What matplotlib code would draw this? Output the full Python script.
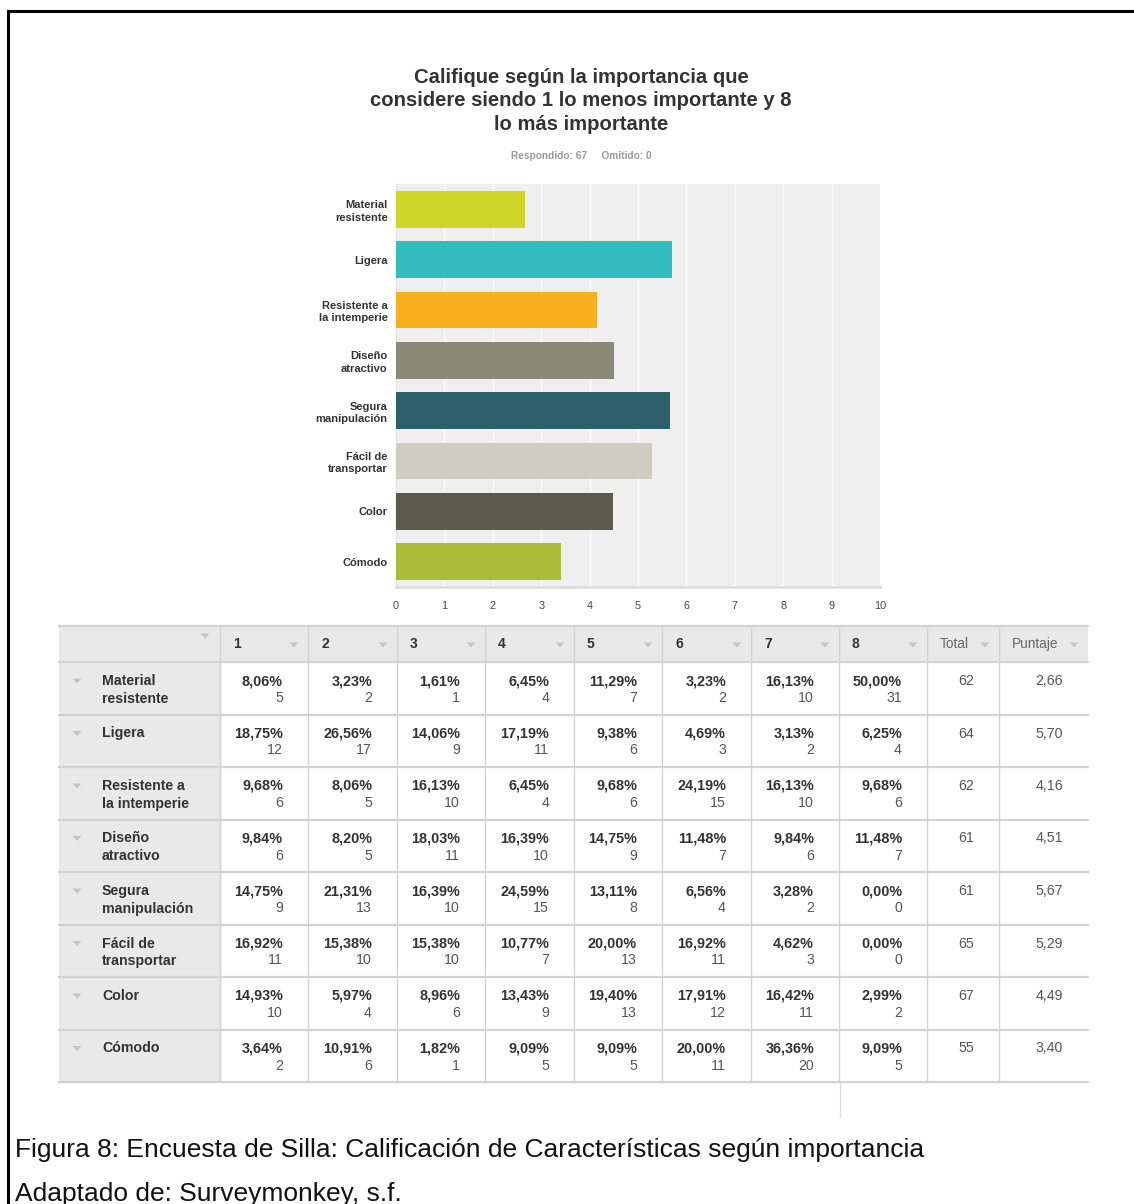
import numpy as np
import matplotlib
matplotlib.use('Agg')
import matplotlib.pyplot as plt
from matplotlib.patches import Rectangle, Polygon

plt.rcParams['font.family'] = ['Liberation Sans', 'DejaVu Sans']

features = ['Material\nresistente', 'Ligera', 'Resistente a\nla intemperie', 'Diseño\natractivo',
            'Segura\nmanipulación', 'Fácil de\ntransportar', 'Color', 'Cómodo']
scores = [2.66, 5.70, 4.16, 4.51, 5.67, 5.29, 4.49, 3.40]
totals = [62, 64, 62, 61, 61, 65, 67, 55]
ranks = ['1', '2', '3', '4', '5', '6', '7', '8']
pcts = [
    [8.06, 3.23, 1.61, 6.45, 11.29, 3.23, 16.13, 50.00],
    [18.75, 26.56, 14.06, 17.19, 9.38, 4.69, 3.13, 6.25],
    [9.68, 8.06, 16.13, 6.45, 9.68, 24.19, 16.13, 9.68],
    [9.84, 8.20, 18.03, 16.39, 14.75, 11.48, 9.84, 11.48],
    [14.75, 21.31, 16.39, 24.59, 13.11, 6.56, 3.28, 0.00],
    [16.92, 15.38, 15.38, 10.77, 20.00, 16.92, 4.62, 0.00],
    [14.93, 5.97, 8.96, 13.43, 19.40, 17.91, 16.42, 2.99],
    [3.64, 10.91, 1.82, 9.09, 9.09, 20.00, 36.36, 9.09],
]
counts = [
    [5, 2, 1, 4, 7, 2, 10, 31],
    [12, 17, 9, 11, 6, 3, 2, 4],
    [6, 5, 10, 4, 6, 15, 10, 6],
    [6, 5, 11, 10, 9, 7, 6, 7],
    [9, 13, 10, 15, 8, 4, 2, 0],
    [11, 10, 10, 7, 13, 11, 3, 0],
    [10, 4, 6, 9, 13, 12, 11, 2],
    [2, 6, 1, 5, 5, 11, 20, 5],
]
colors = ['#d0d52a', '#33bdbf', '#f7af1f', '#8a8a79', '#2d5f6b', '#cfcdbf', '#5b5a4b', '#a9bd38']

W, H = 1134, 1204
fig = plt.figure(figsize=(W / 100, H / 100), dpi=100)

# full-figure pixel axes for the text, table and frame
bg = fig.add_axes([0, 0, 1, 1])
bg.set_xlim(0, W)
bg.set_ylim(H, 0)
bg.axis('off')

# black frame of the figure
bg.plot([8, W], [11, 11], color='black', lw=2.2)
bg.plot([8, 8], [11, H], color='black', lw=2.2)

# title
bg.text(581, 101, 'Califique según la importancia que\nconsidere siendo 1 lo menos importante y 8\nlo más importante',
        ha='center', va='center', fontsize=14.6, fontweight='bold', color='#333333', linespacing=1.27)
bg.text(581, 156, 'Respondido: 67     Omitido: 0', ha='center', va='center',
        fontsize=7.3, fontweight='bold', color='#9a9a9a')

# bar chart
ax = fig.add_axes([396 / W, 1 - 587 / H, 484 / W, 403 / H])
ax.set_facecolor('#efefef')
y = np.arange(len(features))
ax.barh(y, scores, height=0.73, color=colors, zorder=3)
ax.set_xlim(0, 10)
ax.set_ylim(len(features) - 0.5, -0.5)
ax.set_xticks(range(0, 11))
ax.xaxis.grid(True, color='#fbfbfb', lw=1, zorder=1)
ax.set_axisbelow(True)
ax.set_yticks(y)
ax.set_yticklabels(features, fontsize=8, fontweight='bold', color='#333333', linespacing=1.3)
ax.tick_params(axis='y', length=0, pad=6)
ax.tick_params(axis='x', length=0, pad=10, labelsize=7.8, labelcolor='#444444')
for s in ['top', 'right']:
    ax.spines[s].set_visible(False)
ax.spines['bottom'].set_color('#dcdcdc')
ax.spines['bottom'].set_linewidth(2)
ax.spines['left'].set_color('#e4e4e4')
ax.spines['left'].set_linewidth(1)

# table
col_x = [59, 220, 308, 397, 485, 574, 662, 751, 839, 927, 999, 1088]
head_top, head_bot = 626, 662
row_h = 52.5
grid = '#d3d3d3'
gray_bg = '#e9e9e9'
n = len(features)
table_bot = head_bot + n * row_h

bg.add_patch(Rectangle((col_x[0], head_top), col_x[-1] - col_x[0], head_bot - head_top,
                       facecolor=gray_bg, edgecolor='none'))
bg.add_patch(Rectangle((col_x[0], head_bot), col_x[1] - col_x[0], table_bot - head_bot,
                       facecolor=gray_bg, edgecolor='none'))


def tri(xc, yc, c='#c5c5c5'):
    bg.add_patch(Polygon([[xc - 4.5, yc - 2.5], [xc + 4.5, yc - 2.5], [xc, yc + 2.5]],
                         closed=True, facecolor=c, edgecolor='none'))


# header
tri(col_x[1] - 15, 636)
head_labels = ranks + ['Total', 'Puntaje']
for j, lab in enumerate(head_labels):
    left, right = col_x[j + 1], col_x[j + 2]
    bold = j < 8
    bg.text(left + 13, 644, lab, ha='left', va='center', fontsize=10 if bold else 9.8,
            fontweight='bold' if bold else 'normal', color='#333333' if bold else '#666666')
    tri(right - 14, 645)

# rows
for i, feat in enumerate(features):
    top = head_bot + i * row_h
    tri(77, top + 19)
    for k, line in enumerate(feat.split('\n')):
        bg.text(102, top + 19 + k * 18, line, ha='left', va='center', fontsize=10.2,
                fontweight='bold', color='#333333')
    for j in range(8):
        xr = col_x[j + 2] - 25
        bg.text(xr, top + 19, f'{pcts[i][j]:.2f}%'.replace('.', ','), ha='right', va='center',
                fontsize=10.4, fontweight='bold', color='#333333')
        bg.text(xr, top + 36, str(counts[i][j]), ha='right', va='center',
                fontsize=10.2, color='#555555')
    bg.text(col_x[10] - 25, top + 19, str(totals[i]), ha='right', va='center',
            fontsize=10.2, color='#555555')
    bg.text(col_x[11] - 25, top + 19, f'{scores[i]:.2f}'.replace('.', ','), ha='right', va='center',
            fontsize=10.2, color='#555555')

# grid lines of the table
for k in range(n + 2):
    yy = head_top if k == 0 else head_bot + (k - 1) * row_h
    bg.plot([col_x[0], col_x[-1]], [yy, yy], color=grid, lw=1.6)
for xx in col_x[1:-1]:
    bg.plot([xx, xx], [head_top, table_bot], color=grid, lw=1)
bg.plot([840, 840], [table_bot, 1117], color='#dddddd', lw=1)

# caption
bg.text(15, 1150, 'Figura 8: Encuesta de Silla: Calificación de Características según importancia',
        ha='left', va='center', fontsize=19, color='#111111')
bg.text(15, 1194, 'Adaptado de: Surveymonkey, s.f.', ha='left', va='center',
        fontsize=19, color='#111111')

plt.savefig('out.png', dpi=100)
